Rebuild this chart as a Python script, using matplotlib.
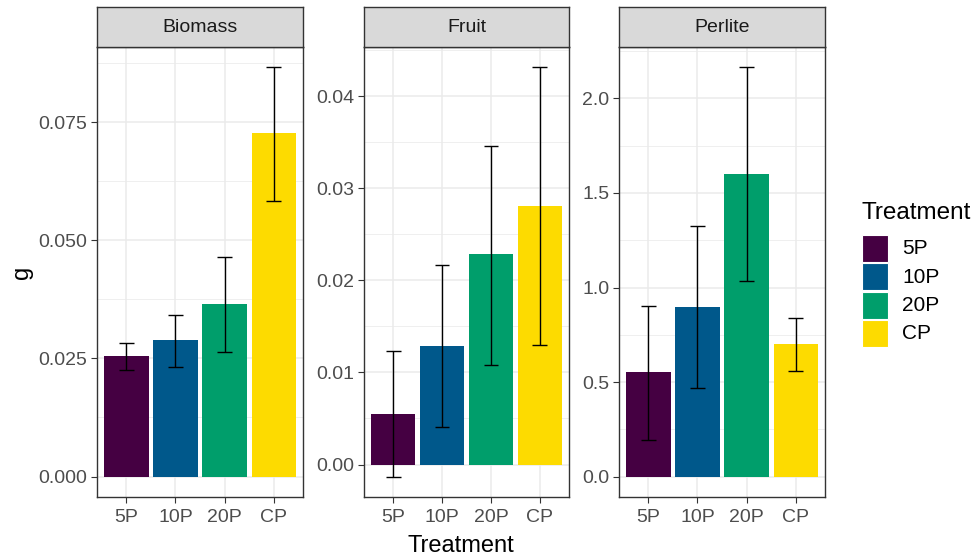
import numpy as np
import matplotlib
matplotlib.use("Agg")
import matplotlib.pyplot as plt
from matplotlib.patches import Rectangle

plt.rcParams['font.family'] = ['Liberation Sans', 'DejaVu Sans']

# data
treatments = ['5P', '10P', '20P', 'CP']
colors = ['#450042', '#00588B', '#009E6B', '#FDDB00']

panels = ['Biomass', 'Fruit', 'Perlite']

biomass_mean = [0.0255, 0.0289, 0.0365, 0.0727]
biomass_lo = [0.0225, 0.0232, 0.0264, 0.0584]
biomass_hi = [0.0283, 0.0343, 0.0464, 0.0866]

fruit_mean = [0.0055, 0.0129, 0.0228, 0.0281]
fruit_lo = [-0.0013, 0.0041, 0.0108, 0.0130]
fruit_hi = [0.0123, 0.0217, 0.0346, 0.0431]

perlite_mean = [0.552, 0.898, 1.601, 0.701]
perlite_lo = [0.193, 0.471, 1.034, 0.556]
perlite_hi = [0.904, 1.323, 2.164, 0.838]

means = [biomass_mean, fruit_mean, perlite_mean]
lows = [biomass_lo, fruit_lo, perlite_lo]
highs = [biomass_hi, fruit_hi, perlite_hi]

y_ticks = [np.arange(0, 0.0751, 0.025), np.arange(0, 0.0401, 0.01), np.arange(0, 2.01, 0.5)]
y_fmt = ['{:.3f}', '{:.2f}', '{:.1f}']

W, H = 975, 559
fig = plt.figure(figsize=(W / 100, H / 100), dpi=100)

panel_x = [(97, 303), (364, 569), (619, 825)]
top, bottom, strip_top = 47, 497, 7

border = '#333333'
grid_col = '#EBEBEB'
tick_col = '#4D4D4D'

x = np.arange(len(treatments))

for i, name in enumerate(panels):
    x0, x1 = panel_x[i]
    ax = fig.add_axes([x0 / W, 1 - bottom / H, (x1 - x0) / W, (bottom - top) / H])
    ax.bar(x, means[i], width=0.9, color=colors, zorder=2)
    ax.vlines(x, lows[i], highs[i], color='black', lw=1.0, zorder=3)
    ax.hlines(lows[i], x - 0.15, x + 0.15, color='black', lw=1.0, zorder=3)
    ax.hlines(highs[i], x - 0.15, x + 0.15, color='black', lw=1.0, zorder=3)

    lo = min(0, min(lows[i]))
    hi = max(highs[i])
    pad = (hi - lo) * 0.05
    ax.set_ylim(lo - pad, hi + pad)
    ax.set_xlim(-0.6, 3.6)

    ax.set_xticks(x)
    ax.set_xticklabels(treatments)
    yt = y_ticks[i]
    ax.set_yticks(yt)
    ax.set_yticklabels([y_fmt[i].format(v) for v in yt])
    step = yt[1] - yt[0]
    minor = np.arange(yt[0] - step / 2, hi + pad, step)
    ax.set_yticks(minor[(minor > lo - pad)], minor=True)

    ax.grid(True, which='major', color=grid_col, lw=1.1, zorder=0)
    ax.grid(True, which='minor', axis='y', color=grid_col, lw=0.55, zorder=0)
    ax.set_axisbelow(True)
    ax.tick_params(axis='both', which='major', labelsize=14, labelcolor=tick_col,
                   color=border, length=4, width=0.8, pad=3)
    ax.tick_params(axis='x', which='major', pad=5)
    ax.tick_params(axis='y', which='minor', length=0)
    for s in ax.spines.values():
        s.set_color(border)
        s.set_linewidth(1.0)

    # facet strip
    sax = fig.add_axes([x0 / W, 1 - top / H, (x1 - x0) / W, (top - strip_top) / H])
    sax.set_facecolor('#D9D9D9')
    sax.set_xticks([])
    sax.set_yticks([])
    for s in sax.spines.values():
        s.set_color(border)
        s.set_linewidth(1.0)
    sax.text(0.5, 0.5, name, ha='center', va='center', fontsize=14, color='#1A1A1A',
             transform=sax.transAxes)

fig.text(22 / W, 1 - 272 / H, 'g', rotation=90, ha='center', va='center', fontsize=17)
fig.text(461 / W, 1 - 546 / H, 'Treatment', ha='center', va='center', fontsize=17)

# legend
fig.text(861 / W, 1 - 213 / H, 'Treatment', ha='left', va='center', fontsize=17.5)
key_top = 235
key_h = 28.3
for j, t in enumerate(treatments):
    y0 = key_top + j * key_h
    fig.patches.append(Rectangle((862 / W, 1 - (y0 + 27) / H), 26 / W, 27 / H,
                                 transform=fig.transFigure, facecolor=colors[j], edgecolor='white', lw=0.8))
    fig.text(902 / W, 1 - (y0 + 14) / H, t, ha='left', va='center', fontsize=15, color='black')

fig.savefig('out.png', dpi=100, facecolor='white')
